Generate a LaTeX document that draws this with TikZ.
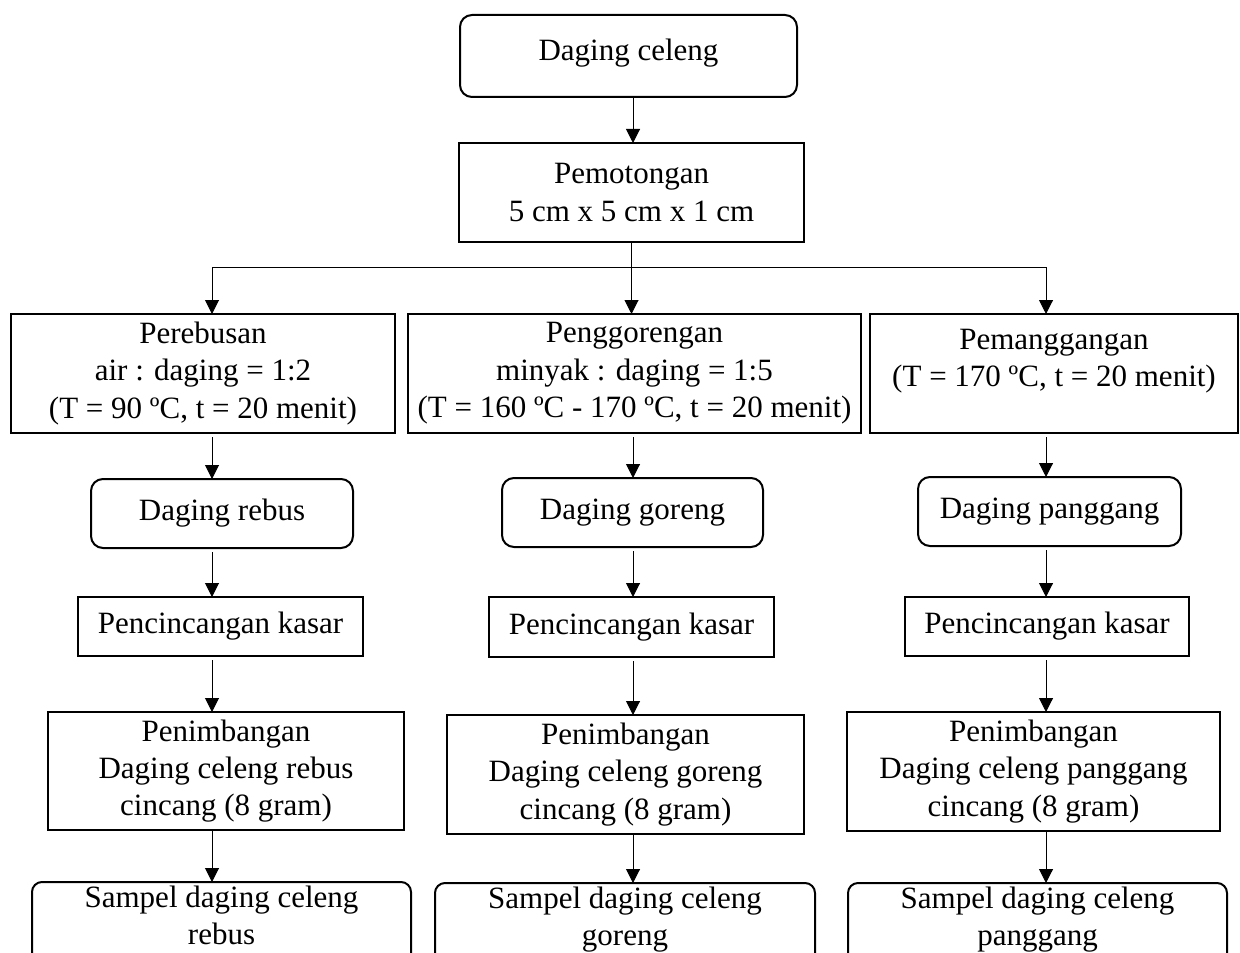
\documentclass[tikz,border=0pt]{standalone}
\usepackage{fontspec}
\setmainfont{Liberation Serif}
\usetikzlibrary{arrows.meta,positioning}

\begin{document}
\begin{tikzpicture}[>={Triangle[width=7pt,length=7pt]}, line width=0.5pt,
  box/.style={draw, line width=1pt, align=center, inner sep=2pt, outer sep=0pt, font=\fontsize{15.5pt}{18.7pt}\selectfont},
  rbox/.style={box, rounded corners=6pt},
  sbox/.style={box, rounded corners=5pt, minimum width=190pt, text depth=14pt},
  alur/.style={->, shorten <=2pt}]
\useasboundingbox (0,0) rectangle (620pt,-476pt);
\clip (0,0) rectangle (620pt,-476pt);
\node[rbox, minimum width=168.5pt, minimum height=41pt, text depth=6.4pt] (celeng) at (314.25pt,-28pt) {Daging celeng};
\node[box, minimum width=172.5pt, minimum height=49.5pt, below=23pt of celeng, xshift=1.5pt] (potong) {Pemotongan\\5 cm x 5 cm x 1 cm};
\node[box, minimum width=226.5pt, minimum height=59.5pt, below=36pt of potong, xshift=1.5pt] (goreng) {Penggorengan\\minyak : daging = 1:5\\(T = 160 ºC - 170 ºC, t = 20 menit)};
\node[box, minimum width=192pt, minimum height=59.5pt, left=6.5pt of goreng] (rebus) {Perebusan\\air : daging = 1:2\\(T = 90 ºC, t = 20 menit)};
\node[box, minimum width=184pt, minimum height=59.5pt, text depth=15.5pt, right=4.5pt of goreng] (panggang) {Pemanggangan\\(T = 170 ºC, t = 20 menit)};
\node[rbox, minimum width=131pt, minimum height=34.5pt, below=23pt of rebus, xshift=9.5pt] (hasilrebus) {Daging rebus};
\node[rbox, minimum width=130.5pt, minimum height=34.5pt, below=22.5pt of goreng, xshift=-1pt] (hasilgoreng) {Daging goreng};
\node[rbox, minimum width=131.5pt, minimum height=34.5pt, below=22pt of panggang, xshift=-2.25pt] (hasilpanggang) {Daging panggang};
\node[box, minimum width=142.5pt, minimum height=29.5pt, below=24.5pt of hasilrebus, xshift=-0.75pt] (cincangL) {Pencincangan kasar};
\node[box, minimum width=142.5pt, minimum height=30pt, below=25pt of hasilgoreng, xshift=-0.5pt] (cincangM) {Pencincangan kasar};
\node[box, minimum width=142pt, minimum height=29.5pt, below=25.5pt of hasilpanggang, xshift=-1.25pt] (cincangR) {Pencincangan kasar};
\node[box, minimum width=178pt, minimum height=59pt, below=28pt of cincangL, xshift=2.75pt] (timbangL) {Penimbangan\\Daging celeng rebus\\cincang (8 gram)};
\node[box, minimum width=178.5pt, minimum height=59.5pt, below=29pt of cincangM, xshift=-3pt] (timbangM) {Penimbangan\\Daging celeng goreng\\cincang (8 gram)};
\node[box, minimum width=186.5pt, minimum height=59.5pt, below=28pt of cincangR, xshift=-6.75pt] (timbangR) {Penimbangan\\Daging celeng panggang\\cincang (8 gram)};
\node[sbox, minimum width=189.5pt, below=26pt of timbangL, xshift=-2.25pt] (sampelL) {Sampel daging celeng\\rebus};
\node[sbox, below=24.5pt of timbangM, xshift=-0.25pt] (sampelM) {Sampel daging celeng\\goreng};
\node[sbox, minimum width=189.5pt, below=26pt of timbangR, xshift=2pt] (sampelR) {Sampel daging celeng\\panggang};
\coordinate (colL) at (106pt,0);
\coordinate (colM) at (316.5pt,0);
\coordinate (colR) at (523pt,0);
\coordinate[below=12.5pt of potong] (cabang);
\draw[->] (celeng.south -| colM) -- (potong.north -| colM);
\draw (potong.south) -- (cabang);
\draw (cabang -| colL) -- (cabang -| colR);
\draw[->] (cabang -| colL) -- (rebus.north -| colL);
\draw[->] (cabang) -- (goreng.north -| cabang);
\draw[->] (cabang -| colR) -- (panggang.north -| colR);
\draw[alur] (rebus.south -| colL) -- (hasilrebus.north -| colL);
\draw[alur] (goreng.south -| colM) -- (hasilgoreng.north -| colM);
\draw[alur] (panggang.south -| colR) -- (hasilpanggang.north -| colR);
\draw[alur] (hasilrebus.south -| colL) -- (cincangL.north -| colL);
\draw[alur] (hasilgoreng.south -| colM) -- (cincangM.north -| colM);
\draw[alur] (hasilpanggang.south -| colR) -- (cincangR.north -| colR);
\draw[alur] (cincangL.south -| colL) -- (timbangL.north -| colL);
\draw[alur] (cincangM.south -| colM) -- (timbangM.north -| colM);
\draw[alur] (cincangR.south -| colR) -- (timbangR.north -| colR);
\draw[->] (timbangL.south -| colL) -- (sampelL.north -| colL);
\draw[->] (timbangM.south -| colM) -- (sampelM.north -| colM);
\draw[->] (timbangR.south -| colR) -- (sampelR.north -| colR);
\end{tikzpicture}
\end{document}
